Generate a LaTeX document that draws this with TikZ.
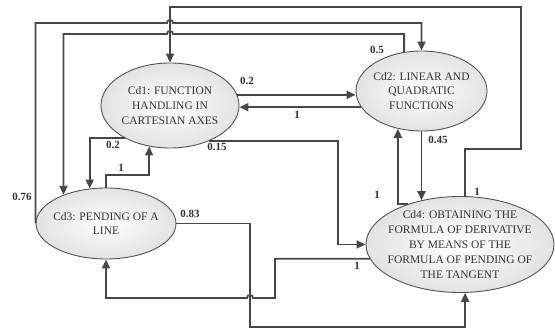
\documentclass[tikz,border=0pt]{standalone}
\usepackage{fontspec}
\setmainfont{Liberation Serif}
\usetikzlibrary{shapes.geometric,arrows.meta}
\begin{document}
\begin{tikzpicture}[x=1pt,y=-1pt,
  state/.style={ellipse, draw=gray!65!black, line width=0.9pt, inner color=white, outer color=gray!22, inner sep=0pt},
  txt/.style={align=center, inner sep=0pt, font=\fontsize{11.5}{14.8}\selectfont, text=black!80},
  conn/.style={draw=black!72, line width=1.8pt},
  arr/.style={conn, -{Triangle[length=9pt,width=8pt]}},
  lab/.style={inner sep=0pt, font=\fontsize{11}{12}\selectfont\bfseries, text=black!80}]
\useasboundingbox (0,0) rectangle (555,331);

% states
\node[state, minimum width=138pt, minimum height=85pt] (cd1) at (170,105.5) {};
\node[state, minimum width=131pt, minimum height=80pt] (cd2) at (421.5,91) {};
\node[state, minimum width=140pt, minimum height=71pt] (cd3) at (106,223.5) {};
\node[state, minimum width=188pt, minimum height=96pt] (cd4) at (460,244.5) {};

\node[txt] (cd1t) at (cd1.center) {Cd1: FUNCTION\\HANDLING IN\\CARTESIAN AXES};
\node[txt] (cd2t) at (cd2.center) {Cd2: LINEAR AND\\QUADRATIC\\FUNCTIONS};
\node[txt] (cd3t) at (cd3.center) {Cd3: PENDING OF A\\LINE};
\node[txt] (cd4t) at (cd4.center) {Cd4: OBTAINING THE\\FORMULA OF DERIVATIVE\\BY MEANS OF THE\\FORMULA OF PENDING OF\\THE TANGENT};

% Cd4 -> Cd1
\draw[arr] (cd4.84) |- (521,149) |- (cd1.north |- 0,7) -- (cd1.north);
% Cd3 -> Cd2
\draw[arr] (cd3.west) -- (cd3.west |- 0,23) -- (167,23) arc[start angle=180, end angle=360, radius=3] -| (cd2.north);
% Cd2 -> Cd3
\draw[arr] (cd2.114) -- (cd2.114 |- 0,34) -- (173,34) arc[start angle=0, end angle=-180, radius=3] -| (cd3.146);
% Cd1 -> Cd3
\draw[arr] (cd1.216) -| (cd3.115);
% Cd3 -> Cd1
\draw[arr] (cd3.north) -- (cd3.north |- 0,175) -| (cd1.243);
% Cd1 -> Cd2
\draw[arr] (cd1.9) -- (cd1.9 -| cd2.west);
% Cd2 -> Cd1
\draw[arr] (cd2.195) -- (cd2.195 -| cd1.east);
% Cd1 -> Cd4
\draw[arr] (cd1.-42) -| (cd4.west -| 338,0) -- (cd4.west);
% Cd4 -> Cd2
\draw[arr] (cd4.142) -| (cd2.238);
% Cd2 -> Cd4
\draw[arr] (cd2.south) -- (cd2.south |- cd4.131);
% Cd3 -> Cd4
\draw[arr] (cd3.east) -| (250,327) -| (cd4.-84);
% Cd4 -> Cd3
\draw[arr] (cd4.189) -| (275,298) -- (253,298) arc[start angle=0, end angle=-180, radius=3] -| (cd3.south);

% labels
\node[lab] (l1) at (247,81) {0.2};
\node[lab] (l2) at (297,115) {1};
\node[lab] (l3) at (377,50) {0.5};
\node[lab] (l4) at (438,140) {0.45};
\node[lab] (l5) at (113,145) {0.2};
\node[lab] (l6) at (217,147) {0.15};
\node[lab] (l7) at (121,168) {1};
\node[lab] (l8) at (22,197) {0.76};
\node[lab] (l9) at (190,214) {0.83};
\node[lab] (l10) at (377,195) {1};
\node[lab] (l11) at (477,192) {1};
\node[lab] (l12) at (357,266) {1};
\end{tikzpicture}
\end{document}
